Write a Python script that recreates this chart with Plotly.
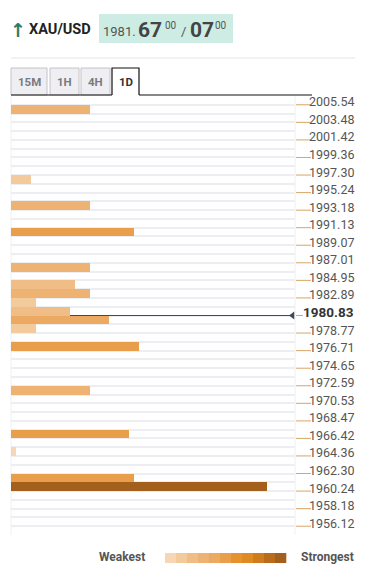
import plotly.graph_objects as go

# ---------------- data ----------------
tick_labels = ["2005.54", "2003.48", "2001.42", "1999.36", "1997.30", "1995.24",
               "1993.18", "1991.13", "1989.07", "1987.01", "1984.95", "1982.89",
               "1980.83", "1978.77", "1976.71", "1974.65", "1972.59", "1970.53",
               "1968.47", "1966.42", "1964.36", "1962.30", "1960.24", "1958.18",
               "1956.12"]
current_price = 1980.83
row_step = 1.0296  # price span of one level row

levels = [2005.03, 1996.79, 1993.70, 1990.61, 1986.49, 1984.43, 1983.40,
          1982.37, 1981.34, 1980.31, 1979.28, 1977.22, 1972.07, 1966.93,
          1964.87, 1961.78, 1960.75]
strength = [16, 4, 16, 25, 16, 13, 16, 5, 12, 20, 5, 26, 16, 24, 1, 25, 52]
max_strength = 52

palette = ['#f6d6b5', '#f2ca9c', '#f0bd86', '#eeb373', '#eca962', '#e99e4c',
           '#e6922f', '#df8a22', '#cf7c1e', '#b86c1c', '#a3601c']

tabs = ["15M", "1H", "4H", "1D"]
active_tab = "1D"
pair = "XAU/USD"
bid_int, bid_big, bid_sup = "1981.", "67", "00"
ask_big, ask_sup = "07", "00"

# ---------------- geometry helpers ----------------
W, H = 374, 581
ML, MR, MT, MB = 11, 79, 96, 46
PW, PH = W - ML - MR, H - MT - MB


def px(x):
    return (x - ML) / PW


def py(y):
    return (H - MB - y) / PH


tick_vals = [float(t) for t in tick_labels]
y_top = tick_vals[0] + row_step
y_bot = y_top - 50 * row_step
x_max = 57.7

colors = [palette[round(s / max_strength * (len(palette) - 1))] for s in strength]

fig = go.Figure()

fig.add_trace(go.Bar(
    y=levels, x=strength, base=0, orientation='h', width=row_step,
    marker=dict(color=colors, line=dict(width=0)),
    hoverinfo='skip', showlegend=False,
))

# current price marker
fig.add_trace(go.Scatter(
    x=[x_max * (292.5 - ML) / PW], y=[current_price], mode='markers',
    marker=dict(symbol='triangle-left', size=7, color='#3d4a5c'),
    cliponaxis=False, hoverinfo='skip', showlegend=False,
))

shapes = []
annotations = []

# current price line (above grid, below bars)
shapes.append(dict(type='line', xref='x', yref='y', x0=0, x1=x_max * (292 - ML) / PW,
                   y0=current_price, y1=current_price, layer='between',
                   line=dict(color='#3d4a5c', width=1.2)))

# left / right borders of level area
for xx in (0, 1):
    shapes.append(dict(type='line', xref='paper', yref='paper', x0=xx, x1=xx, y0=0, y1=1,
                       line=dict(color='#eef0f3', width=1), layer='below'))

# tick marks + labels
for lab, v in zip(tick_labels, tick_vals):
    is_cur = abs(v - current_price) < 1e-6
    shapes.append(dict(type='line', xref='paper', yref='y',
                       x0=px(296), x1=px(303 if is_cur else 311), y0=v, y1=v,
                       line=dict(color='#d9a466', width=1)))
    if is_cur:
        annotations.append(dict(xref='paper', yref='y', x=px(356), y=v, text='<b>' + lab + '</b>',
                                showarrow=False, xanchor='right', yanchor='middle', yshift=4,
                                font=dict(family='Roboto', size=13.5, color='#333333')))
    else:
        annotations.append(dict(xref='paper', yref='y', x=px(356), y=v, text=lab,
                                showarrow=False, xanchor='right', yanchor='middle', yshift=3,
                                font=dict(family='Roboto', size=12.5, color='#555555')))

# header separator
shapes.append(dict(type='line', xref='paper', yref='paper', x0=px(11), x1=px(355),
                   y0=py(58), y1=py(58), line=dict(color='#e6e6e6', width=1)))

# header
annotations.append(dict(xref='paper', yref='paper', x=px(8), y=py(30), text='<b>↑</b>',
                        showarrow=False, xanchor='left', yanchor='middle',
                        font=dict(family='DejaVu Sans', size=19, color='#2f7d5e')))
annotations.append(dict(xref='paper', yref='paper', x=px(27), y=py(30), text='<b>' + pair + '</b>',
                        showarrow=False, xanchor='left', yanchor='middle',
                        font=dict(family='Roboto', size=14.5, color='#222222')))
shapes.append(dict(type='rect', xref='paper', yref='paper', x0=px(99), x1=px(233),
                   y0=py(43), y1=py(14), fillcolor='#cdece3', line=dict(width=0)))
annotations.append(dict(xref='paper', yref='paper', x=px(101), y=py(31.5), text=bid_int,
                        showarrow=False, xanchor='left', yanchor='middle',
                        font=dict(family='Roboto', size=13, color='#555555')))
annotations.append(dict(xref='paper', yref='paper', x=px(136), y=py(29.5), text='<b>' + bid_big + '</b>',
                        showarrow=False, xanchor='left', yanchor='middle',
                        font=dict(family='Roboto', size=21, color='#444444')))
annotations.append(dict(xref='paper', yref='paper', x=px(163), y=py(25), text=bid_sup,
                        showarrow=False, xanchor='left', yanchor='middle',
                        font=dict(family='Roboto', size=10, color='#555555')))
annotations.append(dict(xref='paper', yref='paper', x=px(179), y=py(32), text='/',
                        showarrow=False, xanchor='left', yanchor='middle',
                        font=dict(family='Roboto', size=13, color='#555555')))
annotations.append(dict(xref='paper', yref='paper', x=px(188), y=py(29.5), text='<b>' + ask_big + '</b>',
                        showarrow=False, xanchor='left', yanchor='middle',
                        font=dict(family='Roboto', size=21, color='#444444')))
annotations.append(dict(xref='paper', yref='paper', x=px(213), y=py(25), text=ask_sup,
                        showarrow=False, xanchor='left', yanchor='middle',
                        font=dict(family='Roboto', size=10, color='#555555')))

# tabs
tab_pos = [(11, 47), (50, 79), (81, 110), (112, 139)]
for t, (a, b) in zip(tabs, tab_pos):
    if t == active_tab:
        shapes.append(dict(type='rect', xref='paper', yref='paper', x0=px(a), x1=px(b),
                           y0=py(95), y1=py(68), fillcolor='#ffffff', line=dict(width=0)))
        shapes.append(dict(type='path', xref='paper', yref='paper',
                           path=f"M {px(a)} {py(95)} L {px(a)} {py(68)} L {px(b)} {py(68)} L {px(b)} {py(95)}",
                           line=dict(color='#111111', width=1.2)))
        col = '#333333'
    else:
        shapes.append(dict(type='rect', xref='paper', yref='paper', x0=px(a), x1=px(b),
                           y0=py(95), y1=py(68), fillcolor='#efeff3',
                           line=dict(color='#c4c4c8', width=1)))
        col = '#7a7a80'
    annotations.append(dict(xref='paper', yref='paper', x=px((a + b) / 2), y=py(82),
                            text='<b>' + t + '</b>', showarrow=False, xanchor='center',
                            yanchor='middle', font=dict(family='Roboto', size=11.5, color=col)))

# tab baseline
shapes.append(dict(type='line', xref='paper', yref='paper', x0=px(11), x1=px(112),
                   y0=py(95), y1=py(95), line=dict(color='#111111', width=1.2)))
shapes.append(dict(type='line', xref='paper', yref='paper', x0=px(139), x1=px(312),
                   y0=py(95), y1=py(95), line=dict(color='#111111', width=1.2)))

# legend
annotations.append(dict(xref='paper', yref='paper', x=px(147), y=py(557), text='<b>Weakest</b>',
                        showarrow=False, xanchor='right', yanchor='middle',
                        font=dict(family='Roboto', size=12, color='#555555')))
annotations.append(dict(xref='paper', yref='paper', x=px(356), y=py(557), text='<b>Strongest</b>',
                        showarrow=False, xanchor='right', yanchor='middle',
                        font=dict(family='Roboto', size=12, color='#555555')))
seg_w = (286 - 165) / len(palette)
for i, c in enumerate(palette):
    shapes.append(dict(type='rect', xref='paper', yref='paper',
                       x0=px(165 + i * seg_w), x1=px(165 + (i + 1) * seg_w + 0.3),
                       y0=py(563), y1=py(553), fillcolor=c, line=dict(width=0)))

fig.update_layout(
    width=W, height=H,
    margin=dict(l=ML, r=MR, t=MT, b=MB),
    paper_bgcolor='#ffffff', plot_bgcolor='#ffffff',
    bargap=0,
    xaxis=dict(range=[0, x_max], visible=False, fixedrange=True),
    yaxis=dict(range=[y_bot, y_top], tickmode='linear', tick0=tick_vals[0], dtick=row_step,
               showgrid=True, gridcolor='#eceef1', gridwidth=1.6, zeroline=False,
               showticklabels=False, ticks='', showline=False, fixedrange=True),
    shapes=shapes, annotations=annotations,
    font=dict(family='Roboto'),
    showlegend=False,
)

fig.write_html("out.html", config={'displayModeBar': False},
               post_script="document.body.style.margin='0';document.body.style.padding='0';")
